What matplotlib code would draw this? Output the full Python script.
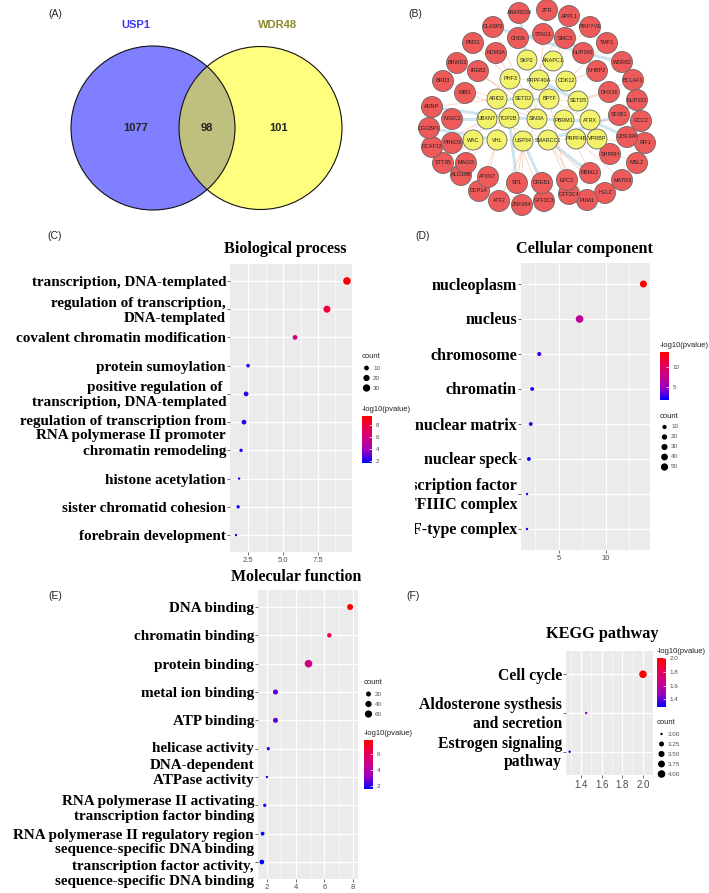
import numpy as np
import matplotlib
matplotlib.use('Agg')
import matplotlib.pyplot as plt
from matplotlib.colors import LinearSegmentedColormap, Normalize
from matplotlib.patches import Circle
from matplotlib.transforms import Bbox, TransformedBbox

W, H = 709, 893

# (A) venn
venn_sets = ['USP1', 'WDR48']
venn_counts = [1077, 98, 101]  # USP1 only, both, WDR48 only

# (B) interaction network (names + layout)
red_names = ['ANKRD28', 'ZFR', 'APPL1', 'PIKFYVE', 'TMF1', 'WDR82', 'BCLAF1', 'NUP153', 'GCC2', 'RIF1',
             'MSL2', 'MATR3', 'HELZ', 'PUM1', 'GTF3C4', 'GTF3C3', 'ZNF654', 'ATF2', 'DCP1A', 'ALG10B',
             'STT3B', 'DCAF12', 'CGGBP1', 'ADNP', 'BRD3', 'BRWD3', 'PMS1', 'CLASP2',
             'CHD6', 'STAG1', 'SMC3', 'NUP160', 'NHBP2', 'DHX36', 'SF3B1', 'U2SURP', 'SHPRH', 'RBM12',
             'EPC2', 'CREB1', 'SP1', 'ATXN7', 'MAGI3', 'PRKD3', 'NR2C2', 'MIB1', 'IREB2', 'KDM3A']
red_x = [519, 547, 569, 590, 607, 622, 633, 637, 641, 645,
         637, 622, 605, 587, 569, 544, 522, 499, 479, 461,
         443, 432, 429, 432, 443, 457, 473, 493,
         518, 543, 565, 583, 597, 609, 619, 627, 610, 590,
         567, 542, 517, 488, 466, 452, 452, 465, 478, 496]
red_y = [13, 10, 16, 27, 43, 62, 80, 100, 121, 143,
         163, 180, 193, 200, 194, 201, 205, 201, 191, 175,
         163, 147, 128, 107, 81, 63, 43, 27,
         38, 34, 38, 53, 71, 92, 115, 137, 154, 173,
         180, 183, 183, 177, 163, 143, 119, 93, 71, 53]
yellow_names = ['SKP2', 'ANAPC1', 'PHF3', 'PRPF40A', 'CDK12', 'ARID2', 'SETD2', 'BPTF', 'SETD5', 'UBXN7',
                'TOP2B', 'SIN3A', 'PBRM1', 'ATRX', 'WAC', 'VHL', 'USP34', 'SMARCC1', 'PRPF4B', 'VPRBP']
yellow_x = [527, 553, 510, 539, 566, 497, 523, 549, 578, 487, 509, 537, 564, 590, 473, 497, 523, 548, 576, 597]
yellow_y = [60, 61, 79, 80, 81, 99, 99, 99, 101, 119, 118, 119, 120, 120, 140, 140, 141, 140, 139, 139]

blue_edges = [('STAG1', 'SMC3'), ('CHD6', 'STAG1'), ('CLASP2', 'NUP160'), ('ADNP', 'TOP2B'), ('TOP2B', 'SIN3A'),
              ('SIN3A', 'PBRM1'), ('PBRM1', 'ATRX'), ('ATRX', 'U2SURP'), ('SMARCC1', 'SF3B1'), ('USP34', 'CREB1'),
              ('UBXN7', 'NR2C2'), ('SETD2', 'BPTF'), ('ARID2', 'SETD2'), ('SMC3', 'NUP160'), ('NUP160', 'WDR82'),
              ('SF3B1', 'NUP153'), ('TOP2B', 'SP1'), ('VHL', 'CGGBP1'), ('SMARCC1', 'RBM12'), ('PRPF40A', 'SETD5'),
              ('SKP2', 'ANKRD28')]
orange_edges = [('SIN3A', 'MIB1'), ('SIN3A', 'IREB2'), ('SIN3A', 'KDM3A'), ('SETD2', 'BRWD3'), ('ARID2', 'BRD3'),
                ('TOP2B', 'PRKD3'), ('TOP2B', 'MAGI3'), ('VHL', 'ATXN7'), ('USP34', 'SP1'), ('SMARCC1', 'EPC2'),
                ('PBRM1', 'RBM12'), ('ATRX', 'SHPRH'), ('PRPF4B', 'MSL2'), ('VPRBP', 'RIF1'), ('SETD5', 'DHX36'),
                ('CDK12', 'NHBP2'), ('ANAPC1', 'SMC3'), ('SKP2', 'CHD6'), ('PHF3', 'PMS1'), ('SIN3A', 'ATF2'),
                ('SMARCC1', 'PUM1'), ('BPTF', 'GTF3C4'), ('USP34', 'ZNF654'), ('SETD2', 'APPL1'), ('PRPF40A', 'ZFR'),
                ('ANAPC1', 'PIKFYVE'), ('CDK12', 'TMF1'), ('SETD5', 'BCLAF1'), ('ATRX', 'GCC2'), ('PRPF4B', 'MATR3'),
                ('SMARCC1', 'HELZ'), ('VHL', 'DCP1A'), ('WAC', 'STT3B'), ('UBXN7', 'DCAF12'), ('ARID2', 'ADNP'),
                ('WAC', 'ALG10B'), ('TOP2B', 'GTF3C3'), ('SIN3A', 'CLASP2')]
yellow_edges = [('SETD2', 'SETD5'), ('ARID2', 'PBRM1'), ('UBXN7', 'SMARCC1'), ('PHF3', 'CDK12'), ('WAC', 'VPRBP'),
                ('SKP2', 'SIN3A'), ('ANAPC1', 'USP34'), ('BPTF', 'ATRX'), ('TOP2B', 'ARID2'), ('SIN3A', 'SMARCC1')]

# (C) biological process
bp_terms = ['transcription, DNA-templated', 'regulation of transcription,\nDNA-templated',
            'covalent chromatin modification', 'protein sumoylation',
            'positive regulation of \ntranscription, DNA-templated',
            'regulation of transcription from\nRNA polymerase II promoter', 'chromatin remodeling',
            'histone acetylation', 'sister chromatid cohesion', 'forebrain development']
bp_logp = [9.57, 8.14, 5.86, 2.50, 2.36, 2.21, 2.00, 1.86, 1.79, 1.64]
bp_count = [33, 27, 10, 6, 10, 10, 5, 4, 5, 4]

# (D) cellular component
cc_terms = ['nucleoplasm', 'nucleus', 'chromosome', 'chromatin', 'nuclear matrix', 'nuclear speck',
            'transcription factor\nTFIIIC complex', 'SWI/SNF-type complex']
cc_logp = [14.0, 7.2, 2.9, 2.15, 2.0, 1.8, 1.6, 1.6]
cc_count = [45, 56, 9, 7, 7, 7, 3, 3]

# (E) molecular function
mf_terms = ['DNA binding', 'chromatin binding', 'protein binding', 'metal ion binding', 'ATP binding',
            'helicase activity', 'DNA-dependent\nATPase activity',
            'RNA polymerase II activating\ntranscription factor binding',
            'RNA polymerase II regulatory region\nsequence-specific DNA binding',
            'transcription factor activity,\nsequence-specific DNA binding']
mf_logp = [7.8, 6.35, 4.9, 2.6, 2.6, 2.1, 2.0, 1.85, 1.7, 1.65]
mf_count = [35, 13, 70, 21, 20, 5, 3, 5, 8, 16]

# (F) KEGG
kegg_terms = ['Cell cycle', 'Aldosterone systhesis\nand secretion', 'Estrogen signaling\npathway']
kegg_logp = [2.0, 1.45, 1.29]
kegg_count = [4, 3, 3]

cmap = LinearSegmentedColormap.from_list(
    'bluered', [(0, '#0000FF'), (0.25, '#9700C0'), (0.5, '#C9008A'), (0.75, '#E8004F'), (1, '#FF0000')])

SANS = 'Liberation Sans'
SERIF = 'Liberation Serif'

fig = plt.figure(figsize=(W / 100, H / 100), dpi=100)


def px_rect(x0, y0, x1, y1):
    return [x0 / W, 1 - y1 / H, (x1 - x0) / W, (y1 - y0) / H]


def fy(y):
    return 1 - y / H


def dot_size(counts, cmin, cmax):
    r = (np.asarray(counts, float) - cmin) / (cmax - cmin)
    d = 2.4 + 5.2 * np.sqrt(np.clip(r, 0, 1))
    return (d * 0.72) ** 2


bg = fig.add_axes([0, 0, 1, 1])
bg.set_xlim(0, W)
bg.set_ylim(H, 0)
bg.axis('off')

# ---- (A) venn
bg.add_patch(Circle((153, 128), 82, facecolor='#0000FF', alpha=0.5, lw=0))
bg.add_patch(Circle((260.5, 128), 81.5, facecolor='#FFFF00', alpha=0.5, lw=0))
bg.add_patch(Circle((153, 128), 82, fill=False, edgecolor='#111111', lw=0.8))
bg.add_patch(Circle((260.5, 128), 81.5, fill=False, edgecolor='#111111', lw=0.8))
bg.text(136, 25, venn_sets[0], color='#3A3AF5', fontsize=8, weight='bold', family=SANS, ha='center', va='center')
bg.text(278, 25, venn_sets[1], color='#8C8C28', fontsize=8, weight='bold', family=SANS, ha='center', va='center')
for xx, v in zip([136, 207, 278], venn_counts):
    bg.text(xx, 128, str(v), fontsize=8, weight='bold', family=SANS, ha='center', va='center', color='#222222')

# ---- (B) network
pos = {}
for n, x, y in zip(red_names, red_x, red_y):
    pos[n] = (x, y)
for n, x, y in zip(yellow_names, yellow_x, yellow_y):
    pos[n] = (x, y)
for edges, col, lw, al in [(blue_edges, '#9ECAE1', 2.2, 0.5), (orange_edges, '#F4A582', 0.5, 0.6),
                           (yellow_edges, '#E3E38A', 0.7, 0.6)]:
    for a, b in edges:
        bg.plot([pos[a][0], pos[b][0]], [pos[a][1], pos[b][1]], color=col, lw=lw, alpha=al,
                solid_capstyle='round', zorder=1)
for names, fc, rad in [(red_names, '#EE5A5A', 10.5), (yellow_names, '#F2F26B', 10)]:
    for n in names:
        bg.add_patch(Circle(pos[n], rad, facecolor=fc, edgecolor='#666666', lw=0.6, zorder=2))
        bg.text(pos[n][0], pos[n][1], n, fontsize=3.9, family=SANS, ha='center', va='center',
                color='#222222', zorder=3)

# panel letters
for lab, x, y in [('(A)', 55, 14), ('(B)', 415, 14), ('(C)', 55, 236), ('(D)', 423, 236),
                  ('(E)', 55, 596), ('(F)', 413, 596)]:
    bg.text(x, y, lab, fontsize=7.5, family=SANS, ha='center', va='center', color='#222222')


def dot_panel(rect, terms, logp, counts, xlim, xticks, xlabels, minor, title, title_xy, title_fs,
              label_fs, tick_fs=5.5, clip_left=None, label_shift=None):
    ax = fig.add_axes(px_rect(*rect))
    ax.set_facecolor('#EBEBEB')
    y = np.arange(len(terms))
    norm = Normalize(min(logp), max(logp))
    sc = ax.scatter(logp, y, s=dot_size(counts, min(counts), max(counts)), c=logp, cmap=cmap,
                    norm=norm, linewidths=0, zorder=3)
    ax.set_xlim(*xlim)
    ax.set_ylim(len(terms) - 0.4, -0.6)
    ax.set_yticks(y)
    ax.set_yticklabels([])
    ax.set_xticks(xticks)
    ax.set_xticklabels(xlabels, family=SANS, fontsize=tick_fs, color='#4D4D4D')
    ax.set_xticks(minor, minor=True)
    ax.grid(True, which='major', color='white', lw=0.9)
    ax.grid(True, which='minor', axis='x', color='white', lw=0.45)
    ax.tick_params(which='minor', length=0)
    ax.tick_params(which='major', length=2, width=0.5, color='#333333', pad=1.5)
    ax.set_axisbelow(True)
    for s in ax.spines.values():
        s.set_visible(False)
    if label_shift is None:
        label_shift = [0] * len(terms)
    base = 1.5 / ((rect[3] - rect[1]) / (len(terms) + 0.2))
    xoff = -4.0 / (rect[2] - rect[0])
    for yy, term, dy in zip(y, terms, label_shift):
        t = ax.text(xoff, yy + dy + base, term, transform=ax.get_yaxis_transform(), ha='right',
                    va='center', family=SERIF, weight='bold', fontsize=label_fs, linespacing=1.18,
                    clip_on=False)
        if clip_left is not None:
            t.set_clip_box(TransformedBbox(Bbox([[clip_left / W, 0], [1, 1]]), fig.transFigure))
            t.set_clip_on(True)
    fig.text(title_xy[0] / W, fy(title_xy[1]), title, family=SERIF, weight='bold', fontsize=title_fs,
             ha='center', va='center')
    return sc


def color_legend(sc, rect, ticks, ticklabels):
    cax = fig.add_axes(px_rect(*rect))
    cb = fig.colorbar(sc, cax=cax)
    cb.outline.set_visible(False)
    cb.set_ticks(ticks)
    cb.set_ticklabels(ticklabels)
    cax.tick_params(length=2, width=0.5, color='white', direction='in', labelsize=4.5,
                    labelcolor='#4D4D4D', pad=2.5)
    for t in cax.get_yticklabels():
        t.set_family(SANS)
    fig.text(rect[0] / W, fy(rect[1] - 3), '-log10(pvalue)', family=SANS, fontsize=5.5,
             ha='left', va='bottom', color='#222222')


def size_legend(x, y, breaks, labels, counts, step=10):
    bg.text(x, y, 'count', family=SANS, fontsize=5.5, ha='left', va='center', color='#222222')
    ys = y + 11 + step * np.arange(len(breaks))
    bg.scatter(np.full(len(breaks), x + 4.5), ys, s=dot_size(breaks, min(counts), max(counts)),
               color='black', linewidths=0)
    for yy, lab in zip(ys, labels):
        bg.text(x + 11, yy, lab, family=SANS, fontsize=4.5, ha='left', va='center', color='#4D4D4D')


# ---- (C)
sc = dot_panel((230, 264, 352, 552), bp_terms, bp_logp, bp_count, (1.21, 9.93), [2.5, 5.0, 7.5],
               ['2.5', '5.0', '7.5'], [3.75, 6.25, 8.75], 'Biological process', (285, 249), 11.6, 10.9,
               label_shift=[0, 0, 0, 0, 0, 0.17, 0, 0, 0, 0])
size_legend(362, 357, [10, 20, 30], ['10', '20', '30'], bp_count)
color_legend(sc, (362, 416, 372, 463), [2, 4, 6, 8], ['2', '4', '6', '8'])

# ---- (D)
sc = dot_panel((521, 263, 650, 550), cc_terms, cc_logp, cc_count, (0.96, 14.7), [5, 10], ['5', '10'],
               [2.5, 7.5, 12.5], 'Cellular component', (584, 249), 11.7, 11.5, clip_left=415)
color_legend(sc, (660, 352, 669, 400), [5, 10], ['5', '10'])
size_legend(660, 416, [10, 20, 30, 40, 50], ['10', '20', '30', '40', '50'], cc_count)

# ---- (E)
sc = dot_panel((258, 590, 358, 879), mf_terms, mf_logp, mf_count, (1.38, 8.35), [2, 4, 6, 8],
               ['2', '4', '6', '8'], [3, 5, 7], 'Molecular function', (296, 577), 11.4, 10.9,
               label_shift=[0, 0, 0, 0, 0, -0.05, -0.2, 0.07, 0.26, 0.36])
size_legend(364, 683, [20, 40, 60], ['20', '40', '60'], mf_count)
color_legend(sc, (364, 740, 373, 789), [2, 4, 6], ['2', '4', '6'])

# ---- (F)
sc = dot_panel((566, 651, 653, 775), kegg_terms, kegg_logp, kegg_count, (1.255, 2.097),
               [1.4, 1.6, 1.8, 2.0], ['1.4', '1.6', '1.8', '2.0'], [1.3, 1.5, 1.7, 1.9],
               'KEGG pathway', (602, 634), 11.7, 11.3, tick_fs=7)
color_legend(sc, (657, 658, 666, 707), [1.4, 1.6, 1.8, 2.0], ['1.4', '1.6', '1.8', '2.0'])
size_legend(657, 723, [3.0, 3.25, 3.5, 3.75, 4.0], ['3.00', '3.25', '3.50', '3.75', '4.00'], kegg_count)

fig.savefig('out.png', dpi=100)
